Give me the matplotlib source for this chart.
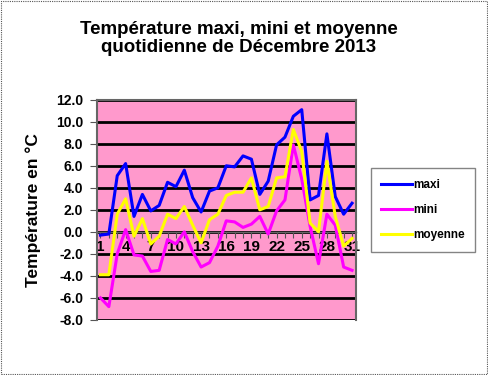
import matplotlib
matplotlib.use("Agg")
import matplotlib.pyplot as plt
from matplotlib.patches import Rectangle
from matplotlib.ticker import MultipleLocator, FixedLocator, FormatStrFormatter

days = list(range(1, 32))
maxi = [-0.3, -0.2, 5.1, 6.2, 1.4, 3.4, 1.9, 2.4, 4.5, 4.1, 5.6, 3.1, 1.8, 3.7, 4.0, 6.0,
        5.9, 6.9, 6.6, 3.4, 4.6, 7.9, 8.6, 10.5, 11.1, 2.9, 3.3, 8.9, 3.2, 1.6, 2.6]
mini = [-6.0, -6.8, -2.0, 0.2, -2.1, -2.2, -3.6, -3.5, -0.7, -1.1, 0.0, -1.8, -3.2, -2.8, -1.3, 1.0,
        0.9, 0.4, 0.7, 1.4, -0.2, 1.9, 2.9, 7.9, 4.8, 0.5, -2.9, 1.6, 0.6, -3.2, -3.5]
moyenne = [-3.9, -3.9, 1.6, 3.0, -0.4, 1.2, -1.1, -0.4, 1.6, 1.2, 2.3, 0.6, -1.0, 1.1, 1.6, 3.3,
           3.6, 3.6, 4.9, 2.0, 2.3, 4.9, 5.0, 9.3, 7.3, 0.8, 0.0, 6.4, 1.4, -1.3, -0.6]
labels = ["maxi", "mini", "moyenne"]
colors = ["#0000FF", "#FF00FF", "#FFFF00"]

fig = plt.figure(figsize=(4.88, 3.75), dpi=100)
fig.patch.set_facecolor("white")
fig.patches.append(Rectangle((0.003, 0.003), 0.994, 0.994, transform=fig.transFigure,
                             fill=False, edgecolor="#555555", linestyle=(0, (1, 1)), linewidth=0.8))

ax = fig.add_axes([0.199, 0.147, 0.531, 0.587])
ax.set_facecolor("#FF99CC")

for y in range(-8, 13, 2):
    ax.axhline(y, color="black", linewidth=2, zorder=1)

for vals, lab, col in zip([maxi, mini, moyenne], labels, colors):
    ax.plot(days, vals, color=col, linewidth=2.2, label=lab, zorder=3)

ax.set_xlim(0.6, 31.5)
ax.set_ylim(-8, 12)

for s in ["top", "right", "left"]:
    ax.spines[s].set_color("#666666")
    ax.spines[s].set_linewidth(1.5)
ax.spines["bottom"].set_position(("data", 0))
ax.spines["bottom"].set_color("#666666")
ax.spines["bottom"].set_linewidth(1.0)

ax.yaxis.set_major_locator(MultipleLocator(2))
ax.yaxis.set_major_formatter(FormatStrFormatter("%.1f"))
ax.xaxis.set_major_locator(FixedLocator(list(range(1, 32, 3))))
ax.xaxis.set_minor_locator(FixedLocator(days))
ax.tick_params(axis="x", which="both", direction="out", length=4, width=0.8, colors="#555555",
               labelcolor="black", labelsize=11, pad=2)
ax.tick_params(axis="y", direction="out", length=5, width=0.8, colors="#555555",
               labelcolor="black", labelsize=10, pad=5)
for t in ax.get_xticklabels() + ax.get_yticklabels():
    t.set_fontweight("bold")
    t.set_fontfamily("Liberation Sans")

ax.set_ylabel("Température en °C", fontsize=12.5, fontweight="bold", family="Liberation Sans")
ax.yaxis.set_label_coords(-0.215, 0.5)

fig.text(0.489, 0.897, "Température maxi, mini et moyenne\nquotidienne de Décembre 2013",
         ha="center", va="center", fontsize=13.5, fontweight="bold", family="Liberation Sans",
         linespacing=1.1)

leg = fig.legend(loc="center", bbox_to_anchor=(0.867, 0.44), frameon=True, fancybox=False,
                 edgecolor="#666666", prop={"family": "Liberation Sans", "weight": "bold", "size": 8.5},
                 handlelength=2.6, handletextpad=0.1, labelspacing=1.1, borderpad=0.9)
leg.get_frame().set_linewidth(1.0)

fig.savefig("out.png", dpi=100)
